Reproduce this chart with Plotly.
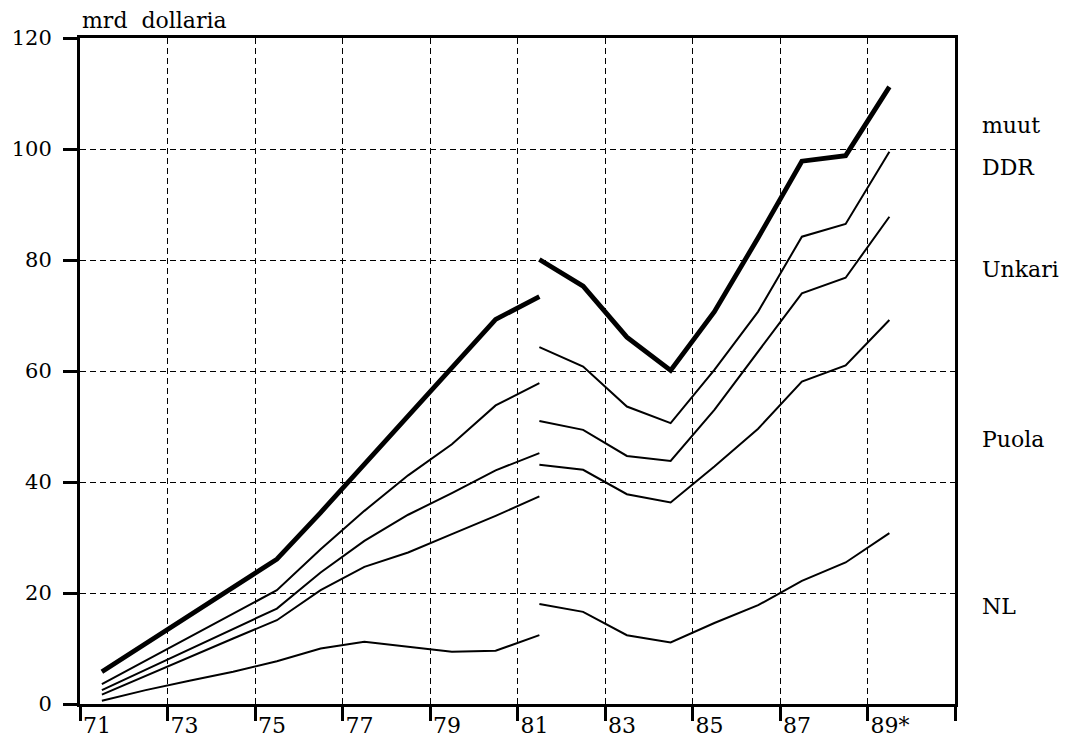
import plotly.graph_objects as go

# x positions (mid-year) for the two series segments (break in 1981)
years_a = [71.5, 72.5, 73.5, 74.5, 75.5, 76.5, 77.5, 78.5, 79.5, 80.5, 81.5]
years_b = [81.5, 82.5, 83.5, 84.5, 85.5, 86.5, 87.5, 88.5, 89.5]

# cumulative values, mrd dollaria (segment a: 1971-81, segment b: 1981-89)
muut_a = [5.8, 10.9, 16.0, 21.0, 26.1, 34.5, 43.2, 51.9, 60.6, 69.3, 73.4]
ddr_a = [3.6, 7.8, 12.0, 16.2, 20.5, 27.9, 34.8, 41.2, 46.8, 53.8, 57.8]
unkari_a = [2.5, 6.2, 9.9, 13.5, 17.2, 23.7, 29.4, 34.1, 38.0, 42.1, 45.2]
puola_a = [1.7, 5.1, 8.4, 11.8, 15.1, 20.5, 24.7, 27.3, 30.6, 33.9, 37.4]
nl_a = [0.6, 2.5, 4.2, 5.8, 7.7, 10.0, 11.2, 10.3, 9.4, 9.6, 12.4]

muut_b = [80.1, 75.3, 66.1, 60.1, 70.7, 84.0, 97.8, 98.8, 111.2]
ddr_b = [64.3, 60.8, 53.6, 50.6, 60.2, 70.7, 84.2, 86.5, 99.5]
unkari_b = [51.0, 49.4, 44.7, 43.8, 53.0, 63.4, 74.0, 76.8, 87.8]
puola_b = [43.1, 42.2, 37.8, 36.3, 42.8, 49.6, 58.1, 61.0, 69.2]
nl_b = [18.0, 16.6, 12.4, 11.1, 14.6, 17.8, 22.2, 25.5, 30.8]

tick_years = [71, 73, 75, 77, 79, 81, 83, 85, 87, 89, 91]
tick_labels = ["71", "73", "75", "77", "79", "81", "83", "85", "87", "89*", ""]
y_ticks = [0, 20, 40, 60, 80, 100, 120]

series_labels = ["muut", "DDR", "Unkari", "Puola", "NL"]
label_values = [104.3, 96.6, 78.2, 47.6, 17.5]

FONT = "DejaVu Serif"

fig = go.Figure()

series = [
    (muut_a, muut_b, 4.8),
    (ddr_a, ddr_b, 2),
    (unkari_a, unkari_b, 2),
    (puola_a, puola_b, 2),
    (nl_a, nl_b, 2),
]
for ya, yb, w in series:
    for xs, ys in ((years_a, ya), (years_b, yb)):
        fig.add_trace(go.Scatter(
            x=xs, y=ys, mode="lines",
            line=dict(color="black", width=w),
            showlegend=False, hoverinfo="skip",
        ))

for name, val in zip(series_labels, label_values):
    fig.add_annotation(
        x=1.0286, y=val, xref="paper", yref="y", text=name, showarrow=False,
        xanchor="left", yanchor="middle",
        font=dict(family=FONT, size=22, color="black"),
    )

fig.add_annotation(
    x=0, y=1, xref="paper", yref="paper", text="mrd&nbsp;&nbsp;dollaria",
    showarrow=False, xanchor="left", yanchor="bottom", yshift=3,
    font=dict(family=FONT, size=22, color="black"),
)

axis_common = dict(
    showline=True, linecolor="black", linewidth=3, mirror=True,
    ticks="outside", tickcolor="black", tickwidth=3, ticklen=14,
    showgrid=True, gridcolor="black", gridwidth=1, griddash="6px,4px",
    zeroline=False, automargin=False,
)

fig.update_xaxes(
    range=[71, 91], tickvals=tick_years, ticktext=tick_labels,
    ticklabelposition="outside right",
    tickfont=dict(family=FONT, size=22, color="black"),
    **axis_common,
)
fig.update_yaxes(
    range=[0, 120], tickvals=y_ticks, ticklabelstandoff=7,
    tickfont=dict(family=FONT, size=21, color="black"),
    **axis_common,
)

# page body has an 8px margin, so the figure is offset by 8px right/down
fig.update_layout(
    width=1067, height=735,
    margin=dict(l=72, r=120, t=30, b=39),
    paper_bgcolor="white", plot_bgcolor="white",
    font=dict(family=FONT, color="black"),
)

fig.write_html("out.html")
